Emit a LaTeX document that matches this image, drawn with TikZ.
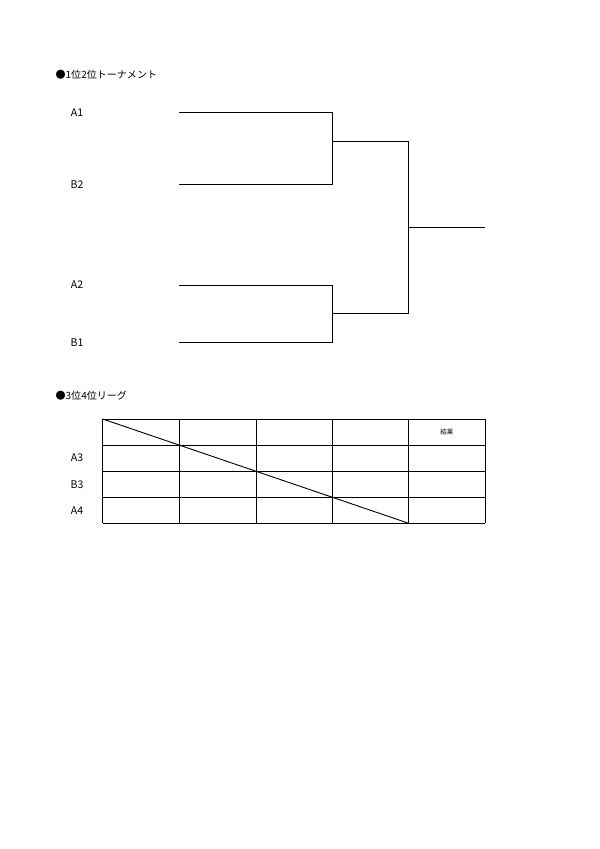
\documentclass[tikz,border=0pt]{standalone}
\usepackage{fontspec}
\setmainfont{Noto Sans CJK JP}
\begin{document}
\begin{tikzpicture}[x=0.035cm, y=-0.035cm, line width=0.5pt]
            \useasboundingbox (0,0) rectangle (600,849);
            \tikzset{lbl/.style={font=\fontsize{10.5}{12}\selectfont}}

            % tournament
            \node[anchor=west, font=\fontsize{10}{12}\selectfont] (T1) at (52, 75) {●1位2位トーナメント};
            \node[lbl] (LA1) at (77, 112.3) {A1};
            \node[lbl] (LB2) at (77, 184.3) {B2};
            \node[lbl] (LA2) at (77, 285) {A2};
            \node[lbl] (LB1) at (77, 342.3) {B1};

            \coordinate (A1) at (179.3, 112.3);
            \coordinate (B2) at (179.3, 184.3);
            \coordinate (A2) at (179.3, 285);
            \coordinate (B1) at (179.3, 342.3);
            \coordinate (M1) at (332.3, 141.3);
            \coordinate (M2) at (332.3, 313.7);
            \coordinate (F) at (408.7, 227.3);
            \coordinate (W) at (485, 227.3);

            \draw (A1) -- (A1 -| M1) -- (B2 -| M1) -- (B2);
            \draw (A2) -- (A2 -| M2) -- (B1 -| M2) -- (B1);
            \draw (M1) -- (M1 -| F) -- (M2 -| F) -- (M2);
            \draw (F) -- (W);

            % league
            \node[anchor=west, font=\fontsize{10}{12}\selectfont] (T2) at (52, 396) {●3位4位リーグ};
            \node[lbl] (LA3) at (77, 458) {A3};
            \node[lbl] (LB3) at (77, 484.2) {B3};
            \node[lbl] (LA4) at (77, 510.3) {A4};

            \coordinate (G0) at (102.7, 419);
            \coordinate (G1) at (485, 523.3);
            \foreach \x in {102.7, 179.3, 256, 332.3, 408.7, 485}
                \draw (\x, 419) -- (\x, 523.3);
            \foreach \y in {419, 445, 471.1, 497.2, 523.3}
                \draw (102.7, \y) -- (485, \y);
            \coordinate (D) at (408.7, 523.3);
            \draw[line width=0.9pt] (G0) -- (D);
            \node[font=\fontsize{6.5}{8}\selectfont] (R) at (446.8, 432) {結果};
        \end{tikzpicture}
\end{document}
